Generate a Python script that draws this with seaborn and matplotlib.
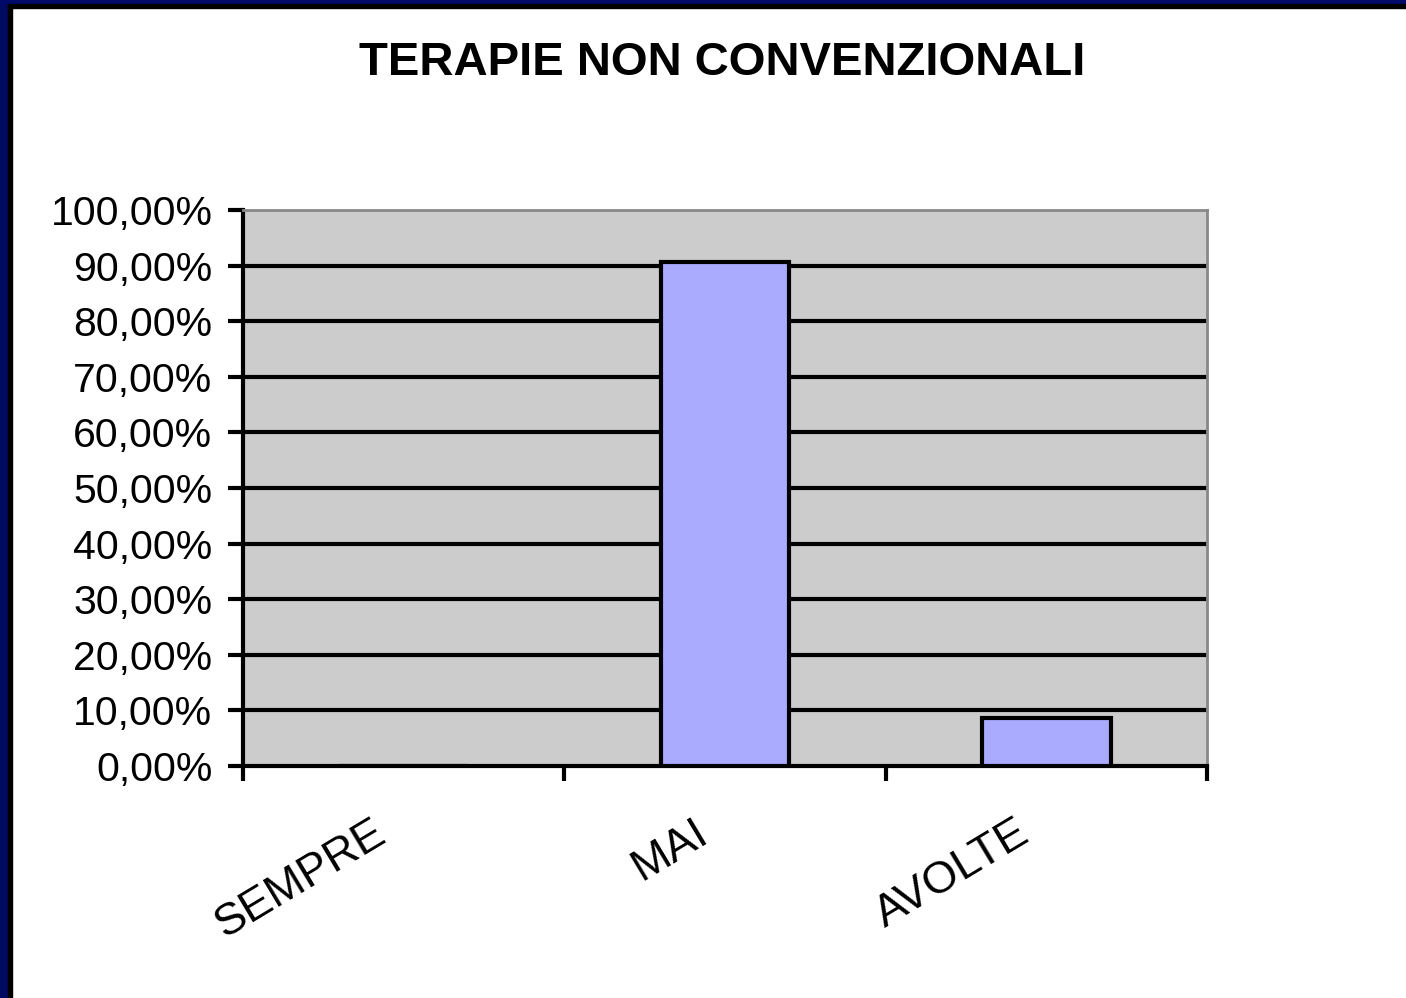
import matplotlib
matplotlib.use("Agg")
import matplotlib.pyplot as plt
import matplotlib.patches as mpatches
import matplotlib.transforms as mtransforms
import seaborn as sns
import pandas as pd

categorie = ["SEMPRE", "MAI", "AVOLTE"]
percentuali = [0.0, 90.6, 8.7]
tick_valori = [0, 10, 20, 30, 40, 50, 60, 70, 80, 90, 100]
titolo = "TERAPIE NON CONVENZIONALI"

df = pd.DataFrame({"cat": categorie, "val": percentuali})

sns.set_style("white")
plt.rcParams["font.family"] = ["Liberation Sans", "DejaVu Sans"]
plt.rcParams["text.color"] = "black"
plt.rcParams["xtick.color"] = "black"
plt.rcParams["ytick.color"] = "black"

fig = plt.figure(figsize=(14.06, 9.98), dpi=100)
fig.patch.set_facecolor("white")
ax = fig.add_axes([243 / 1406, 1 - 766 / 998, (1207 - 243) / 1406, (766 - 210) / 998])
ax.set_facecolor("#cccccc")

sns.barplot(data=df, x="cat", y="val", ax=ax, color="#aaaaff", width=0.4,
            edgecolor="black", linewidth=3, saturation=1, zorder=3)

ax.set_xlim(-0.5, 2.5)
ax.set_ylim(0, 100)
ax.set_yticks(tick_valori)
ax.set_yticklabels([f"{v},00%" for v in tick_valori], fontsize=29.5)
for v in tick_valori[1:-1]:
    ax.axhline(v, color="black", linewidth=3, zorder=1)

# ticks on category boundaries, labels at the centres
ax.set_xticks([-0.5, 0.5, 1.5, 2.5])
ax.set_xticklabels([])
ax.set_xticks([0, 1, 2], minor=True)
ax.set_xticklabels(categorie, minor=True, fontsize=32.5, rotation=31,
                   ha="right", va="center", rotation_mode="anchor")
ax.tick_params(axis="x", which="minor", length=0, pad=46)
ax.tick_params(axis="x", which="major", length=11, width=3, direction="out", bottom=True)
ax.tick_params(axis="y", length=11, width=3, direction="out", left=True, pad=11)
spostamento = mtransforms.ScaledTranslation(-21 / 100, 0, fig.dpi_scale_trans)
for tick in ax.xaxis.get_minor_ticks():
    tick.label1.set_transform(tick.label1.get_transform() + spostamento)
ax.set_xlabel("")
ax.set_ylabel("")

for side in ["left", "bottom"]:
    ax.spines[side].set_color("black")
    ax.spines[side].set_linewidth(3)
for side in ["top", "right"]:
    ax.spines[side].set_color("#888888")
    ax.spines[side].set_linewidth(2)

fig.text(722 / 1406, 1 - 63 / 998, titolo, ha="center", va="center",
         fontsize=34, fontweight="bold", color="black")

# slide frame on the top and left edges
fig.patches.append(mpatches.Rectangle((0, 0), 8 / 1406, 1, transform=fig.transFigure,
                                      color="#000a5e", zorder=10))
fig.patches.append(mpatches.Rectangle((8 / 1406, 0), 4 / 1406, 1 - 4 / 998, transform=fig.transFigure,
                                      color="black", zorder=10))
fig.patches.append(mpatches.Rectangle((0, 1 - 4 / 998), 1, 4 / 998, transform=fig.transFigure,
                                      color="#000a6b", zorder=10))
fig.patches.append(mpatches.Rectangle((8 / 1406, 1 - 8 / 998), 1, 4 / 998, transform=fig.transFigure,
                                      color="black", zorder=10))

fig.savefig("out.png", dpi=100)
